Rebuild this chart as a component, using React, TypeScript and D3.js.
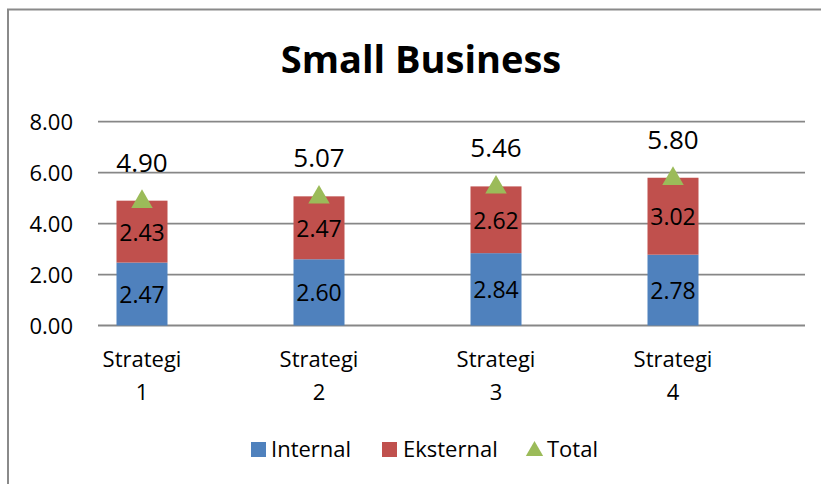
import React from "react";
import * as d3 from "d3";

const categories = ["Strategi 1", "Strategi 2", "Strategi 3", "Strategi 4"];
const internal = [2.47, 2.6, 2.84, 2.78];
const eksternal = [2.43, 2.47, 2.62, 3.02];
const total = [4.9, 5.07, 5.46, 5.8];
const yTicks = [0, 2, 4, 6, 8];
const seriesNames = ["Internal", "Eksternal", "Total"];

const W = 821;
const H = 484;
const FONT = "'Open Sans', 'Liberation Sans', sans-serif";
const BLUE = "#4F81BD";
const RED = "#C0504D";
const GREEN = "#9BBB59";
const GRID = "#878787";

export default function App() {
  const x = d3.scaleBand<string>().domain(categories).range([53.5, 761.5]).padding(0);
  const y = d3.scaleLinear().domain([0, 8]).range([325.5, 121.7]);
  const barW = 51;
  const cx = (c: string) => (x(c) as number) + x.bandwidth() / 2;
  const tri = d3.symbol().type(d3.symbolTriangle).size(200)();
  const triLegend = d3.symbol().type(d3.symbolTriangle).size(130)();

  return (
    <svg width={W} height={H} style={{ position: "absolute", left: 0, top: 0, background: "#fff" }} fontFamily={FONT}>
      <rect x={8} y={9.5} width={W + 20} height={H + 20} fill="#fff" stroke="#8a8a8a" strokeWidth={2} />
      <text x={421} y={73} textAnchor="middle" fontSize={38} fontWeight="bold" fill="#000">
        Small Business
      </text>
      {yTicks.map((t) => (
        <g key={t}>
          <line x1={98} x2={805} y1={y(t)} y2={y(t)} stroke={GRID} strokeWidth={1.8} />
          <text x={73} y={y(t) + 8} textAnchor="end" fontSize={22} fill="#000">
            {t.toFixed(2)}
          </text>
        </g>
      ))}
      {categories.map((c, i) => {
        const x0 = cx(c) - barW / 2;
        const yb0 = y(0);
        const yb1 = y(internal[i]);
        const yr1 = y(internal[i] + eksternal[i]);
        return (
          <g key={c}>
            <rect x={x0} y={yb1} width={barW} height={yb0 - yb1} fill={BLUE} />
            <rect x={x0} y={yr1} width={barW} height={yb1 - yr1} fill={RED} />
            <text x={cx(c)} y={(yb0 + yb1) / 2 + 9} textAnchor="middle" fontSize={23} fill="#000">
              {internal[i].toFixed(2)}
            </text>
            <text x={cx(c)} y={(yb1 + yr1) / 2 + 9} textAnchor="middle" fontSize={23} fill="#000">
              {eksternal[i].toFixed(2)}
            </text>
            <path d={tri as string} transform={`translate(${cx(c)},${y(total[i]) + 1})`} fill={GREEN} />
            <text x={cx(c)} y={y(total[i]) - 29} textAnchor="middle" fontSize={26} fill="#000">
              {total[i].toFixed(2)}
            </text>
            {c.split(" ").map((w, j) => (
              <text key={j} x={cx(c)} y={367 + j * 33} textAnchor="middle" fontSize={22} fill="#000">
                {w}
              </text>
            ))}
          </g>
        );
      })}
      <g>
        <rect x={251} y={442} width={15} height={15} fill={BLUE} />
        <text x={271} y={457} fontSize={22} fill="#000">{seriesNames[0]}</text>
        <rect x={382} y={442} width={15} height={15} fill={RED} />
        <text x={403} y={457} fontSize={22} fill="#000">{seriesNames[1]}</text>
        <path d={triLegend as string} transform="translate(534.5,451)" fill={GREEN} />
        <text x={547} y={457} fontSize={22} fill="#000">{seriesNames[2]}</text>
      </g>
    </svg>
  );
}
